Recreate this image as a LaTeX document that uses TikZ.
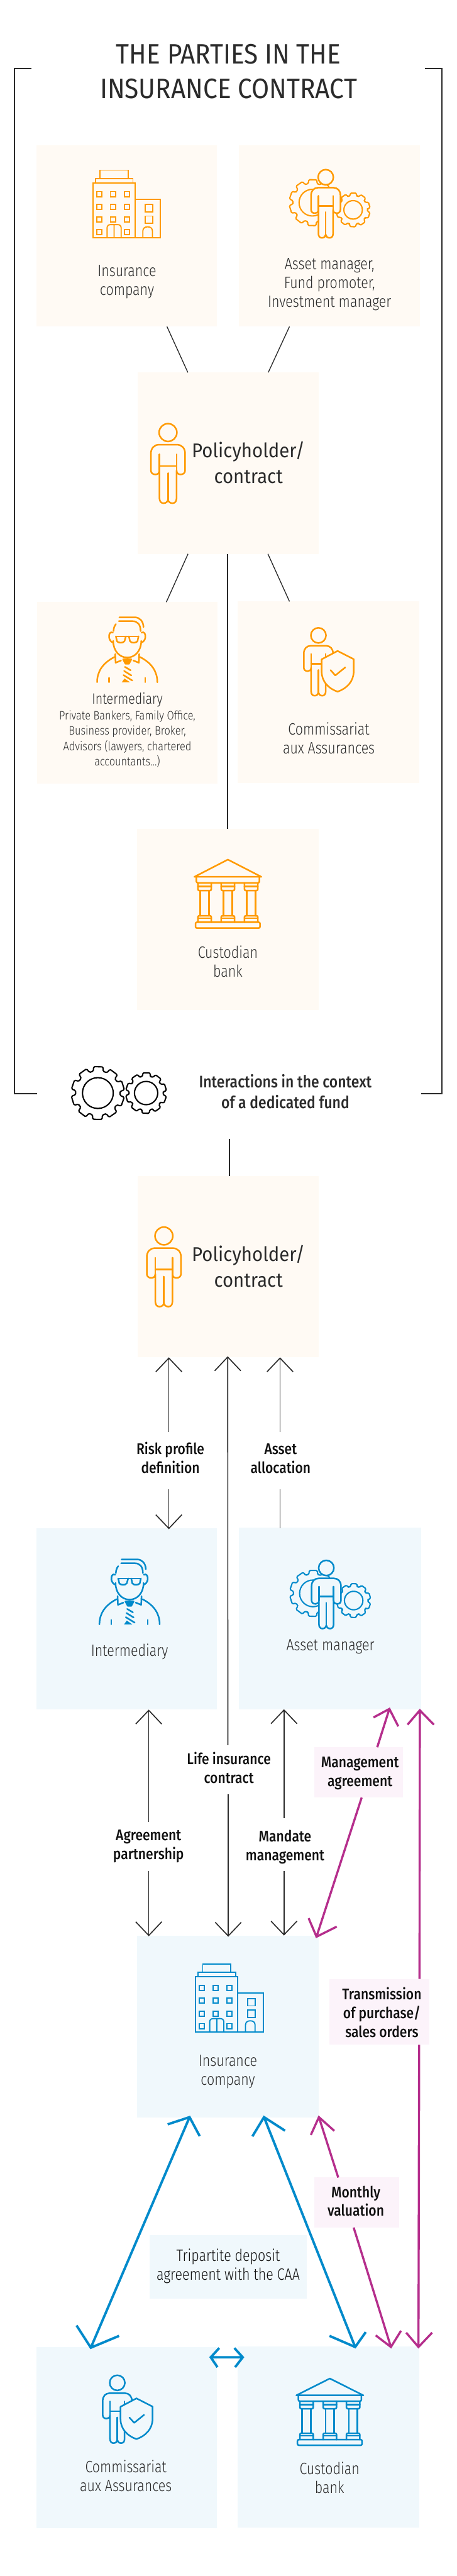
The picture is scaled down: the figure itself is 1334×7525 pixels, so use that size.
\documentclass[tikz,border=0pt]{standalone}
\usepackage{fontspec}
\usetikzlibrary{fit,arrows.meta}
\setmainfont{Fira Sans}
\newfontfamily\fltitle[FakeStretch=0.91]{Fira Sans}
\newfontfamily\flph[FakeStretch=0.93]{Fira Sans}
\newfontfamily\flmed[FakeStretch=0.86]{Fira Sans Medium}
\newfontfamily\fllight[FakeStretch=0.82]{Fira Sans Light}
\newfontfamily\fllightb[FakeStretch=0.845]{Fira Sans Light}
\definecolor{ink}{HTML}{2B2B2B}
\definecolor{ink2}{HTML}{111111}
\definecolor{orangec}{HTML}{FF9A00}
\definecolor{bluec}{HTML}{008ACB}
\definecolor{magc}{HTML}{B52E8C}
\definecolor{creamc}{HTML}{FFFAF4}
\definecolor{paleb}{HTML}{F0F8FC}
\definecolor{pink}{HTML}{FCF3FA}
\colorlet{ic}{orangec}
\colorlet{ib}{creamc}
\tikzset{
  creambox/.style={fill=creamc,draw=none,inner sep=0pt},
  bluebox/.style={fill=paleb,draw=none,inner sep=0pt},
  pinkbox/.style={fill=pink,draw=none,inner sep=0pt},
  bracket/.style={draw=ink,line width=1.7pt,line join=miter},
  thin link/.style={draw=ink,line width=1.25pt},
  mid link/.style={draw=ink,line width=1.6pt},
  darrow/.style={draw=ink,line width=1.5pt,-{Straight Barb[length=20pt,width=38pt]}},
  dline/.style={draw=ink,line width=1.5pt},
  magline/.style={draw=magc,line width=3.1pt,line join=miter},
  blueline/.style={draw=bluec,line width=3.5pt,line join=miter},
  iconline/.style={draw=ic,line width=2.3pt,line join=round,line cap=round},
  iconthin/.style={draw=ic,line width=1.7pt,line join=miter},
  gearline/.style={line width=1.9pt,line join=round},
  txt/.style={align=center,anchor=base,inner sep=0pt},
  titletxt/.style={txt,text=ink,font=\fltitle\fontsize{41}{50.5}\selectfont},
  phtxt/.style={txt,text=ink,font=\flph\fontsize{29}{37.5}\selectfont},
  intxt/.style={txt,text=ink,font=\flmed\fontsize{24.5}{30}\selectfont},
  medtxt/.style={txt,text=ink2,font=\flmed\fontsize{22.5}{27.5}\selectfont},
  lighttxt/.style={txt,text=ink,font=\fllight\fontsize{24}{27.5}\selectfont},
  lightsmall/.style={txt,text=ink,font=\fllight\fontsize{22}{27.5}\selectfont},
  smalltxt/.style={txt,text=ink,font=\fllightb\fontsize{17.8}{22.5}\selectfont},
}
\newcommand\iconperson[5]{%
  \begin{scope}[shift={(#1,#2)},scale=#3]
  \colorlet{ic}{#4}\colorlet{ib}{#5}
  \draw[iconline,fill=ib] (0,26.5) circle [radius=26];
  \draw[iconline,fill=ib] (-25,137) .. controls (-25,146) and (-31,149) .. (-37,149) .. controls (-45,149) and (-50,144) .. (-50,137) -- (-50,88) .. controls (-50,72) and (-40,62) .. (-26,62) -- (26,62) .. controls (40,62) and (50,72) .. (50,88) -- (50,137) .. controls (50,144) and (45,149) .. (37,149) .. controls (31,149) and (25,146) .. (25,137) -- (25,218) .. controls (25,228) and (20,233) .. (13,233) .. controls (6,233) and (0,228) .. (0,222) .. controls (0,228) and (-6,233) .. (-13,233) .. controls (-20,233) and (-25,228) .. (-25,218) -- cycle;
  \draw[iconline] (-25,90)--(-25,137) (25,90)--(25,137) (-25,124)--(25,124) (0,145)--(0,222);
  \end{scope}}
\newcommand\drawgear[6]{%
  \begin{scope}[shift={(#1,#2)}]
  \draw[gearline,draw=#6,rounded corners=1.5pt] (0:#4) \foreach \i in {0,...,9}{ -- (\i*36+6:#4) -- (\i*36+9:#3) -- (\i*36+29:#3) -- (\i*36+32:#4) -- (\i*36+36:#4)} -- cycle;
  \draw[gearline,draw=#6] (0,0) circle [radius=#5];
  \end{scope}}
\newcommand\icongearman[4]{%
  \drawgear{#1-39}{#2+97}{68}{57}{39}{#3}
  \drawgear{#1+80}{#2+118}{50}{42}{27}{#3}
  \iconperson{#1}{#2}{0.858}{#3}{#4}}
\newcommand\iconbuilding[3]{%
  \begin{scope}[shift={(#1,#2)}]
  \colorlet{ic}{#3}
  \draw[iconthin] (20.4,24) rectangle (103,0) (7,37) rectangle (116.5,24) (0,198) rectangle (122.5,37) (122.5,198) rectangle (197,85);
  \foreach \x in {18,58,98.7}{\foreach \y in {70,107,144.5}{\draw[iconthin] (\x-7.5,\y-7.5) rectangle (\x+7.5,\y+7.5);}}
  \foreach \x in {18,98.7}{\draw[iconthin] (\x-7.5,173.5) rectangle (\x+7.5,188.5);}
  \draw[iconthin] (41,198) -- (41,168) .. controls (41,162) and (46,159) .. (52,159) -- (71,159) .. controls (77,159) and (82,162) .. (82,168) -- (82,198) (61.5,159) -- (61.5,198);
  \draw[iconthin] (152,100.5) rectangle (174,122) (152,134) rectangle (174,155.5);
  \draw[iconthin] (145.5,198) -- (145.5,178) .. controls (145.5,170) and (151,165.6) .. (159.5,165.6) .. controls (168,165.6) and (173.5,170) .. (173.5,178) -- (173.5,198);
  \end{scope}}
\newcommand\iconbank[4]{%
  \begin{scope}[shift={(#1,#2)},yscale=#3]
  \colorlet{ic}{#4}
  \draw[iconline] (98,0) -- (0,50.4) -- (196,50.4) -- cycle;
  \draw[iconline,rounded corners=2pt] (6,50.4) -- (6,68) -- (190,68) -- (190,50.4);
  \foreach \x in {30,98,166}{
    \draw[iconline,rounded corners=2pt] (\x-19.6,68) -- (\x-19.6,90.5) -- (\x+19.6,90.5) -- (\x+19.6,68);
    \draw[iconline] (\x-19.6,78) -- (\x+19.6,78) (\x-12.8,90.5) -- (\x-12.8,164) (\x+12.8,90.5) -- (\x+12.8,164) (\x-19.6,171.5) -- (\x+19.6,171.5);
    \draw[iconline,rounded corners=2pt] (\x-19.6,183) -- (\x-19.6,164) -- (\x+19.6,164) -- (\x+19.6,183);
  }
  \draw[iconline,rounded corners=2pt] (3.4,183) rectangle (192,200);
  \end{scope}}
\newcommand\iconbroker[3]{%
  \begin{scope}[shift={(#1,#2)}]
  \colorlet{ic}{#3}
  \draw[iconline] (-24.7,12.5) -- (15,12.5) .. controls (30,12.5) and (39,22) .. (39,41.5);
  \draw[iconline] (-23,1.3) -- (22,1.3) .. controls (36,1.3) and (47,12) .. (47.6,30);
  \draw[iconline] (-40,41.5) .. controls (-40,33) and (-37,26) .. (-33,21);
  \draw[iconline] (-41.7,46) .. controls (-50,42) and (-54,50) .. (-53,60) .. controls (-52,68) and (-47,73) .. (-41.7,75);
  \draw[iconline] (41.7,46) .. controls (50,42) and (54,50) .. (53,60) .. controls (52,68) and (47,73) .. (41.7,75);
  \draw[iconline] (-41,70) .. controls (-41,100) and (-22,118.8) .. (0,118.8) .. controls (22,118.8) and (41,100) .. (41,70);
  \draw[iconline] (-33,57) -- (33,57);
  \draw[iconline] (-33,57) -- (-30,71) .. controls (-28,76) and (-12,78) .. (-8,71) -- (-4,57);
  \draw[iconline] (33,57) -- (30,71) .. controls (28,76) and (12,78) .. (8,71) -- (5,57);
  \draw[iconline] (-35,108.5) -- (-34,134) -- (-18,127.5);
  \draw[iconline] (35,108.5) -- (34,134) -- (18,127.5);
  \draw[iconline] (-37.5,117.4) .. controls (-72,135) and (-88,160) .. (-88,191);
  \draw[iconline] (37.5,117.4) .. controls (72,135) and (88,160) .. (88,191);
  \draw[iconline] (-53,178) -- (-53,191) (53,178) -- (53,191);
  \draw[iconline,fill=ic] (-12,124) -- (12,124) -- (5,137) -- (-5,137) -- cycle;
  \draw[iconline] (-7,146) -- (10,156) (-9,158) -- (12,171) (-11,170) -- (15,186);
  \fill[ic] (-16,191) -- (-8,180) -- (8,191) -- cycle;
  \end{scope}}
\newcommand\iconshield[4]{%
  \iconperson{#1}{#2}{0.853}{#3}{#4}
  \begin{scope}[shift={(#1,#2)}]
  \colorlet{ic}{#3}
  \draw[iconline,fill=#4] (56,68) -- (103,92) -- (103,128) .. controls (103,158) and (82,178) .. (56,187) .. controls (30,178) and (9.4,158) .. (9.4,128) -- (9.4,92.5) -- cycle;
  \draw[iconline] (35.4,124) -- (49.4,139.5) -- (78.4,116);
  \end{scope}}
\begin{document}
\begin{tikzpicture}[x=0.5pt,y=-0.5pt]
\useasboundingbox (0,0) rectangle (1334,7525);
\fill[white] (0,0) rectangle (1334,7525);

% named points
\coordinate (brLa) at (91,201); \coordinate (brLb) at (43,201); \coordinate (brLc) at (43,3194); \coordinate (brLd) at (108,3194);
\coordinate (brRa) at (1242,200); \coordinate (brRb) at (1291,200); \coordinate (brRc) at (1291,3194); \coordinate (brRd) at (1231,3194);

% boxes
\node[creambox,fit={(107,424) (634,954)}] (cIns) {};
\node[creambox,fit={(698,424) (1228,954)}] (cAm) {};
\node[creambox,fit={(402,1088) (932,1618)}] (cPh) {};
\node[creambox,fit={(108,1759) (635,2289)}] (cInt) {};
\node[creambox,fit={(695,1757) (1226,2287)}] (cCaa) {};
\node[creambox,fit={(401,2421) (931,2951)}] (cBank) {};
\node[creambox,fit={(402,3435) (932,3965)}] (dPh) {};
\node[bluebox,fit={(107,4464) (634,4994)}] (bInt) {};
\node[bluebox,fit={(699,4462) (1230,4993)}] (bAm) {};
\node[bluebox,fit={(401,5655) (931,6185)}] (bIns) {};
\node[bluebox,fit={(107,6856) (634,7385)}] (bCaa) {};
\node[bluebox,fit={(694,6855) (1225,7384)}] (bBank) {};
\node[bluebox,fit={(438,6529) (897,6714)}] (trip) {};
\node[pinkbox,fit={(919,5104) (1178,5251)}] (mgmt) {};
\node[pinkbox,fit={(963,5781) (1254,5973)}] (trans) {};
\node[pinkbox,fit={(919,6361) (1167,6507)}] (monthly) {};

% brackets
\draw[bracket] (brLa) -- (brLb) -- (brLc) -- (brLd);
\draw[bracket] (brRa) -- (brRb) -- (brRc) -- (brRd);

% upper links
\coordinate (la) at (488,954); \coordinate (lb) at (549,1088);
\coordinate (lc) at (846,954); \coordinate (ld) at (784,1088);
\coordinate (le) at (549.5,1618); \coordinate (lf) at (486,1759);
\coordinate (lg) at (783,1618); \coordinate (lh) at (846,1757);
\coordinate (li) at (665,1618); \coordinate (lj) at (665,2421);
\coordinate (lk) at (670,3327); \coordinate (ll) at (670,3435);
\draw[thin link] (la) -- (lb);
\draw[thin link] (lc) -- (ld);
\draw[thin link] (le) -- (lf);
\draw[thin link] (lg) -- (lh);
\draw[mid link] (li) -- (lj);
\draw[dline] (lk) -- (ll);

% dark arrows
\coordinate (ra) at (493.5,4183); \coordinate (rb) at (493.5,3965);
\coordinate (rc) at (493.5,4351); \coordinate (rd) at (493.5,4467);
\coordinate (aa) at (818.4,4183); \coordinate (ab) at (818.4,3965);
\coordinate (ac) at (818.4,4351); \coordinate (ad) at (818.4,4464);
\coordinate (ca) at (666,5098); \coordinate (cb) at (665.5,3962);
\coordinate (cc) at (667,5242); \coordinate (cd) at (667,5657.5);
\coordinate (ga) at (434.7,5321.5); \coordinate (gb) at (434.7,4994);
\coordinate (gc) at (434.7,5464.6); \coordinate (gd) at (434.7,5656);
\coordinate (ma) at (830,5311); \coordinate (mb) at (830,4993);
\coordinate (mc) at (830,5464.6); \coordinate (md) at (830,5654);
\draw[darrow] (ra) -- (rb);
\draw[darrow] (rc) -- (rd);
\draw[darrow] (aa) -- (ab);
\draw[dline] (ac) -- (ad);
\draw[darrow] (ca) -- (cb);
\draw[darrow] (cc) -- (cd);
\draw[darrow] (ga) -- (gb);
\draw[darrow] (gc) -- (gd);
\draw[darrow] (ma) -- (mb);
\draw[darrow] (mc) -- (md);

% magenta arrows
\coordinate (m1t) at (1102.5,5104); \coordinate (m1h) at (1138,4992); \coordinate (m1e) at (1091.5,5017); \coordinate (m1f) at (1164,5043);
\coordinate (m2t) at (1057,5251); \coordinate (m2h) at (925,5657.5); \coordinate (m2e) at (902,5603.5); \coordinate (m2f) at (984,5628);
\coordinate (m3t) at (1226,5781); \coordinate (m3h) at (1227,4996); \coordinate (m3e) at (1191,5038); \coordinate (m3f) at (1268,5038);
\coordinate (m4t) at (1225,5973); \coordinate (m4h) at (1223,6856); \coordinate (m4e) at (1187,6814); \coordinate (m4f) at (1263,6814);
\coordinate (m5t) at (988.5,6361); \coordinate (m5h) at (932,6184.5); \coordinate (m5e) at (908.5,6236.5); \coordinate (m5f) at (977,6224.5);
\coordinate (m6t) at (1033.6,6507); \coordinate (m6h) at (1142.5,6856); \coordinate (m6e) at (1098,6822); \coordinate (m6f) at (1172,6808.5);
\draw[magline] (m1t) -- (m1h) (m1e) -- (m1h) -- (m1f);
\draw[magline] (m2t) -- (m2h) (m2e) -- (m2h) -- (m2f);
\draw[magline] (m3t) -- (m3h) (m3e) -- (m3h) -- (m3f);
\draw[magline] (m4t) -- (m4h) (m4e) -- (m4h) -- (m4f);
\draw[magline] (m5t) -- (m5h) (m5e) -- (m5h) -- (m5f);
\draw[magline] (m6t) -- (m6h) (m6e) -- (m6h) -- (m6f);

% blue arrows
\coordinate (b1h) at (554,6184.5); \coordinate (b1e) at (490,6205.6); \coordinate (b1f) at (583.6,6240);
\coordinate (b1k) at (265.4,6858); \coordinate (b1g) at (223.7,6793); \coordinate (b1j) at (348,6823.5);
\coordinate (b2h) at (771.6,6184.5); \coordinate (b2e) at (737.6,6240.7); \coordinate (b2f) at (833,6224);
\coordinate (b2k) at (1038,6856); \coordinate (b2g) at (963,6823.5); \coordinate (b2j) at (1069,6812.4);
\coordinate (b3h) at (616,6886); \coordinate (b3e) at (640.6,6859); \coordinate (b3f) at (635.5,6915);
\coordinate (b3k) at (709.5,6886); \coordinate (b3g) at (685,6859); \coordinate (b3j) at (687,6915);
\draw[blueline] (b1e) -- (b1h) -- (b1f) (b1h) -- (b1k) (b1g) -- (b1k) -- (b1j);
\draw[blueline] (b2e) -- (b2h) -- (b2f) (b2h) -- (b2k) (b2g) -- (b2k) -- (b2j);
\draw[blueline] (b3e) -- (b3h) -- (b3f) (b3h) -- (b3k) (b3g) -- (b3k) -- (b3j);

% icons
\iconbuilding{272}{497}{orangec}
\icongearman{952}{495}{orangec}{creamc}
\iconperson{491}{1237}{1}{orangec}{creamc}
\iconbroker{371.8}{1802}{orangec}
\iconshield{930.6}{1833.5}{orangec}{creamc}
\iconbank{568}{2511}{1}{orangec}
\drawgear{286}{3193}{78}{65}{45}{black}
\drawgear{427}{3193}{60}{50}{34}{black}
\iconperson{479}{3584}{1}{orangec}{creamc}
\iconbroker{378.6}{4554}{bluec}
\icongearman{953.6}{4557.5}{bluec}{paleb}
\iconbuilding{572}{5737.5}{bluec}
\iconshield{342.8}{6938}{bluec}{paleb}
\iconbank{866}{6948}{0.975}{bluec}

% texts (anchor = last baseline)
\node[titletxt] (title) at (668,288) {THE PARTIES IN THE\\INSURANCE CONTRACT};
\node[lighttxt] (tIns) at (371,862) {Insurance\\company};
\node[lighttxt] (tAm) at (963,897) {Asset manager,\\Fund promoter,\\Investment manager};
\node[phtxt] (tPh) at (726,1412) {Policyholder/\\contract};
\node[lightsmall] (tInt) at (372,2057) {Intermediary};
\node[smalltxt] (tIntS) at (372,2237.5) {Private Bankers, Family Office,\\Business provider, Broker,\\Advisors (lawyers, chartered\\accountants...)};
\node[lighttxt] (tCaa) at (961,2201) {Commissariat\\aux Assurances};
\node[lighttxt] (tBank) at (666,2854) {Custodian\\bank};
\node[intxt] (tInter) at (834,3238) {Interactions in the context\\of a dedicated fund};
\node[phtxt] (tPh2) at (726,3760) {Policyholder/\\contract};
\node[medtxt] (tRisk) at (498,4303.5) {Risk profile\\definition};
\node[medtxt] (tAsset) at (820,4303.5) {Asset\\allocation};
\node[lighttxt] (tInt2) at (378.6,4839) {Intermediary};
\node[lighttxt] (tAm2) at (965.5,4821) {Asset manager};
\node[medtxt] (tLife) at (669,5210) {Life insurance\\contract};
\node[medtxt] (tMgmt) at (1052,5218) {Management\\agreement};
\node[medtxt] (tAgr) at (434,5431.6) {Agreement\\partnership};
\node[medtxt] (tMand) at (833,5435) {Mandate\\management};
\node[medtxt] (tTrans) at (1116,5951) {Transmission\\of purchase/\\sales orders};
\node[lighttxt] (tIns2) at (666,6091) {Insurance\\company};
\node[medtxt] (tMon) at (1040,6474) {Monthly\\valuation};
\node[lighttxt,text=ink2] (tTrip) at (667,6661) {Tripartite deposit\\agreement with the CAA};
\node[lighttxt] (tCaa2) at (368,7278) {Commissariat\\aux Assurances};
\node[lighttxt] (tBank2) at (963,7283) {Custodian\\bank};
\end{tikzpicture}
\end{document}
